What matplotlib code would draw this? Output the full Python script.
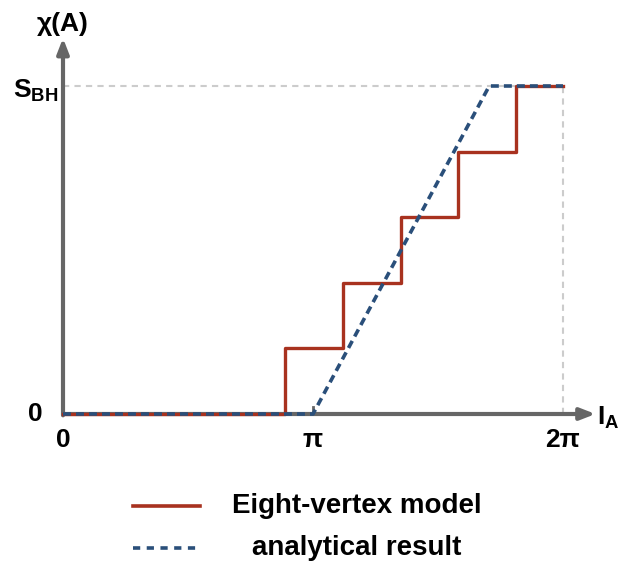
import numpy as np
import matplotlib
matplotlib.use("Agg")
import matplotlib.pyplot as plt
from matplotlib.lines import Line2D

plt.rcParams['font.family'] = ['Liberation Sans', 'DejaVu Sans']
plt.rcParams['mathtext.fontset'] = 'custom'
plt.rcParams['mathtext.bf'] = 'Liberation Sans:bold'

PI = np.pi
# Eight-vertex model staircase (x in units of pi, y in units of S_BH)
step_x = [0.0, 0.888, 1.12, 1.352, 1.58, 1.812, 2.0]
step_y = [0.0, 0.2, 0.4, 0.6, 0.8, 1.0, 1.0]
# analytical result
ana_x = [0.0, 1.0, 1.705, 2.0]
ana_y = [0.0, 0.0, 1.0, 1.0]

xtick_pos = [0.0, 1.0, 2.0]
xtick_lab = ['0', 'π', '2π']

RED = '#a8321f'
BLUE = '#2a4f7a'
GREY = '#666666'
LGREY = '#cccccc'

W, H = 629, 561
fig = plt.figure(figsize=(W/100, H/100), dpi=100)
ax = fig.add_axes([63/W, (H-414)/H, 500/W, 328/H])
ax.set_xlim(0, 2*PI)
ax.set_ylim(0, 1)
ax.axis('off')

# guide lines
ax.plot([0, 2*PI], [1, 1], color=LGREY, lw=1.5, ls=(0, (3, 2.5)), clip_on=False, zorder=1)
ax.plot([2*PI, 2*PI], [0, 1], color=LGREY, lw=1.5, ls=(0, (3, 2.5)), clip_on=False, zorder=1)

# axes arrows
ax.annotate('', xy=(2.13*PI, 0), xytext=(0, 0),
            arrowprops=dict(arrowstyle='-|>,head_length=0.9,head_width=0.35', color=GREY, lw=3,
                            shrinkA=0, shrinkB=0), annotation_clip=False, zorder=2)
ax.annotate('', xy=(0, 1.146), xytext=(0, -0.004),
            arrowprops=dict(arrowstyle='-|>,head_length=0.9,head_width=0.35', color=GREY, lw=3,
                            shrinkA=0, shrinkB=0), annotation_clip=False, zorder=2)
# small tick at pi
ax.plot([PI, PI], [0, 0.02], color=GREY, lw=2, clip_on=False, zorder=2)

# data
sx = np.array(step_x) * PI
ax.step(sx, step_y, where='post', color=RED, lw=2.4, clip_on=False, zorder=3)
ax.plot(np.array(ana_x) * PI, ana_y, color=BLUE, lw=2.6, ls=(0, (2.2, 1.4)), clip_on=False, zorder=4)

fs = 19
for p, l in zip(xtick_pos, xtick_lab):
    ax.text(p*PI, -0.08, l, ha='center', va='center', fontsize=fs, fontweight='bold')
ax.text(-28/250*PI, 0.0, '0', ha='center', va='center', fontsize=fs, fontweight='bold')
ax.text(-27/250*PI, 0.985, r'S$_{\mathbf{BH}}$', ha='center', va='center', fontsize=fs, fontweight='bold')
ax.text(0, 1.19, 'χ(A)', ha='center', va='center', fontsize=fs, fontweight='bold')
ax.text(2.18*PI, -0.01, r'I$_{\mathbf{A}}$', ha='center', va='center', fontsize=fs, fontweight='bold')

# legend
fig.add_artist(Line2D([133/W, 200/W], [1-506/H, 1-506/H], color=RED, lw=2.6))
fig.add_artist(Line2D([133/W, 200/W], [1-548/H, 1-548/H], color=BLUE, lw=2.6, ls=(0, (2.0, 1.8))))
fig.text(357/W, 1-506/H, 'Eight-vertex model', ha='center', va='center', fontsize=20, fontweight='bold')
fig.text(357/W, 1-548/H, 'analytical result', ha='center', va='center', fontsize=20, fontweight='bold')

fig.savefig('out.png', dpi=100)
